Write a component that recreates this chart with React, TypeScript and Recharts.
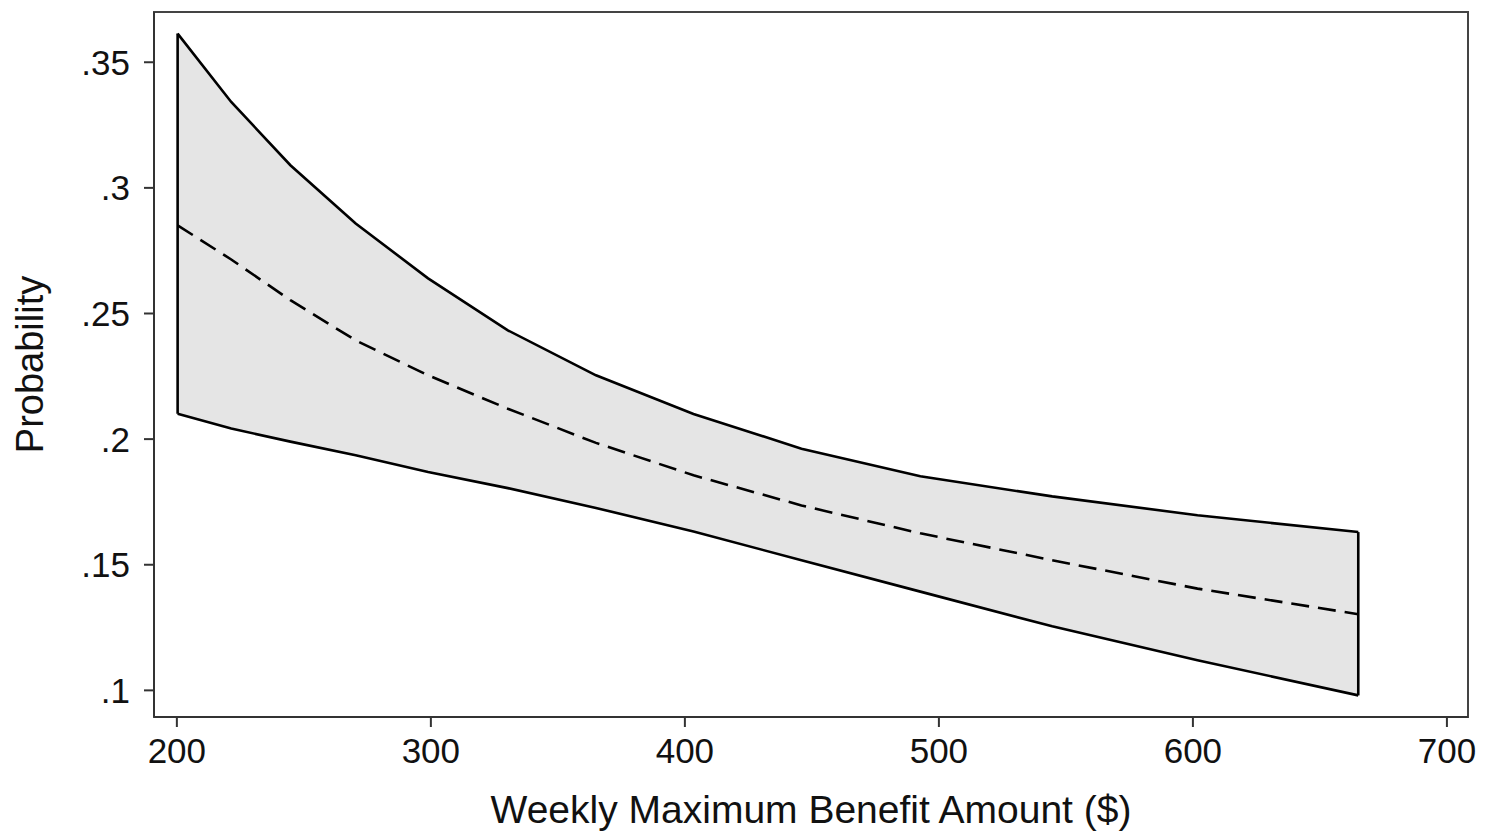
import { ComposedChart, Area, Line, XAxis, YAxis, ReferenceLine, ReferenceArea } from 'recharts'

// benefit grid (log-spaced) and predicted probability with 95% band
const benefit = [200.3, 221.4, 244.7, 270.4, 298.9, 330.3, 365.0, 403.4, 445.9, 492.7, 544.6, 601.8, 665.1]
const upper = [0.3614, 0.3342, 0.309, 0.2858, 0.264, 0.2433, 0.2254, 0.21, 0.1962, 0.1852, 0.1772, 0.1697, 0.163]
const lower = [0.2101, 0.2042, 0.199, 0.1936, 0.1869, 0.1805, 0.1726, 0.1632, 0.1518, 0.1393, 0.1255, 0.112, 0.098]
const predicted = [0.2851, 0.2715, 0.2553, 0.2393, 0.2254, 0.2121, 0.1985, 0.1856, 0.1736, 0.1625, 0.1518, 0.1405, 0.1303]

const xTicks = [200, 300, 400, 500, 600, 700]
const yTicks = [0.1, 0.15, 0.2, 0.25, 0.3, 0.35]
const xDomain = [191, 708.3]
const yDomain = [0.0894, 0.37]

const data = benefit.map((x, i) => ({
  x,
  band: [lower[i], upper[i]],
  hi: upper[i],
  lo: lower[i],
  mid: predicted[i],
}))

const font = '"Liberation Sans", Arial, Helvetica, sans-serif'
const last = benefit.length - 1

const fmtY = (v: number) => String(v).replace(/^0/, '')

function YTitle(props: any) {
  const { viewBox } = props
  const cx = 30
  const cy = viewBox.y + viewBox.height / 2
  return (
    <text x={cx} y={cy} transform={`rotate(-90 ${cx} ${cy})`} textAnchor="middle" dominantBaseline="central"
      style={{ fontFamily: font, fontSize: 38, fill: '#111' }}>
      Probability
    </text>
  )
}

export default function App() {
  return (
    <div style={{ position: 'absolute', left: 0, top: 0, background: '#fff' }}>
      <ComposedChart width={1488} height={831} data={data} margin={{ top: 12, right: 20, bottom: 0, left: 0 }}>
        <XAxis dataKey="x" type="number" domain={xDomain} ticks={xTicks} allowDataOverflow
          height={114} tickSize={10} tickMargin={11} stroke="#333" strokeWidth={2}
          tick={{ fontFamily: font, fontSize: 35, fill: '#111' }}
          label={{ value: 'Weekly Maximum Benefit Amount ($)', position: 'insideBottom', offset: 8, style: { fontFamily: font, fontSize: 39, fill: '#111' } }} />
        <YAxis type="number" domain={yDomain} ticks={yTicks} allowDataOverflow tickFormatter={fmtY}
          width={154} tickSize={10} tickMargin={14} stroke="#333" strokeWidth={2}
          tick={{ fontFamily: font, fontSize: 35, fill: '#111' }}
          label={<YTitle />} />

        <ReferenceArea x1={xDomain[0]} x2={xDomain[1]} y1={yDomain[0]} y2={yDomain[1]}
          fill="none" stroke="#444" strokeWidth={2} ifOverflow="visible" />

        <Area dataKey="band" type="linear" fill="#e5e5e5" fillOpacity={1} stroke="none" isAnimationActive={false} />
        <Line dataKey="hi" type="linear" stroke="#000" strokeWidth={2.6} dot={false} isAnimationActive={false} />
        <Line dataKey="lo" type="linear" stroke="#000" strokeWidth={2.6} dot={false} isAnimationActive={false} />
        <ReferenceLine segment={[{ x: benefit[0], y: lower[0] }, { x: benefit[0], y: upper[0] }]} stroke="#000" strokeWidth={2.6} />
        <ReferenceLine segment={[{ x: benefit[last], y: lower[last] }, { x: benefit[last], y: upper[last] }]} stroke="#000" strokeWidth={2.6} />
        <Line dataKey="mid" type="linear" stroke="#000" strokeWidth={2.6} strokeDasharray="18 9" dot={false} isAnimationActive={false} />
      </ComposedChart>
    </div>
  )
}
